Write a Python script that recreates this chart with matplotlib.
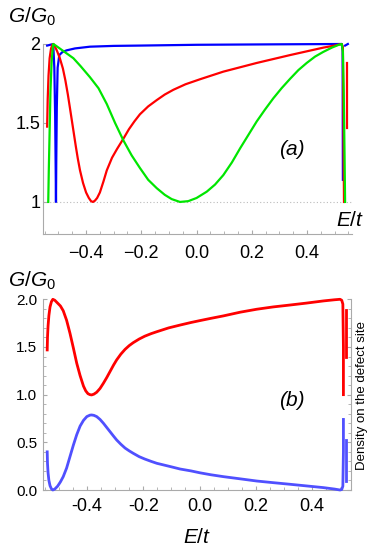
import matplotlib
matplotlib.use("Agg")
import matplotlib.pyplot as plt
from matplotlib.ticker import MultipleLocator

plt.rcParams['font.family'] = ['Liberation Sans', 'DejaVu Sans']
plt.rcParams['mathtext.fontset'] = 'custom'
plt.rcParams['mathtext.it'] = 'Liberation Sans:italic'
plt.rcParams['mathtext.rm'] = 'Liberation Sans'

# ---------------- Panel (a) data ----------------
a_red_x = [-0.541, -0.539, -0.536, -0.532, -0.527, -0.522, -0.518, -0.513, -0.505, -0.495,
           -0.484, -0.475, -0.466, -0.458, -0.451, -0.444, -0.437, -0.430, -0.422, -0.411,
           -0.400, -0.390, -0.382, -0.375, -0.368, -0.360, -0.350, -0.337, -0.325, -0.306,
           -0.288, -0.265, -0.245, -0.225, -0.205, -0.175, -0.144, -0.115, -0.084, -0.040,
           0.013, 0.097, 0.218, 0.339, 0.459, 0.500, 0.520, 0.526, 0.530, 0.534]
a_red_y = [1.477, 1.65, 1.80, 1.91, 1.97, 1.995, 2.00, 1.985, 1.955, 1.91,
           1.845, 1.77, 1.68, 1.59, 1.51, 1.43, 1.35, 1.275, 1.20, 1.12,
           1.06, 1.025, 1.005, 1.00, 1.008, 1.025, 1.06, 1.13, 1.20, 1.28,
           1.335, 1.40, 1.46, 1.51, 1.555, 1.605, 1.645, 1.68, 1.71, 1.745,
           1.777, 1.825, 1.88, 1.93, 1.977, 1.99, 1.998, 2.00, 1.98, 1.00]
a_red2_x = [0.544, 0.544]
a_red2_y = [1.88, 1.47]

a_green_x = [-0.537, -0.535, -0.532, -0.529, -0.525, -0.521, -0.519, -0.510, -0.490, -0.470,
             -0.446, -0.420, -0.386, -0.355, -0.325, -0.295, -0.265, -0.235, -0.205, -0.175,
             -0.144, -0.115, -0.090, -0.060, -0.030, 0.000, 0.037, 0.067, 0.097, 0.128,
             0.158, 0.188, 0.218, 0.248, 0.278, 0.308, 0.339, 0.369, 0.399, 0.429,
             0.459, 0.490, 0.515, 0.526, 0.530, 0.533, 0.536, 0.538]
a_green_y = [1.00, 1.20, 1.45, 1.70, 1.88, 1.97, 2.00, 1.99, 1.965, 1.94,
             1.91, 1.86, 1.79, 1.72, 1.62, 1.50, 1.39, 1.295, 1.215, 1.14,
             1.087, 1.045, 1.018, 1.00, 1.005, 1.025, 1.065, 1.11, 1.17, 1.25,
             1.34, 1.425, 1.51, 1.585, 1.656, 1.72, 1.78, 1.835, 1.88, 1.92,
             1.95, 1.977, 1.995, 2.00, 1.95, 1.70, 1.30, 1.00]

a_blue_x = [-0.541, -0.530, -0.519, -0.515, -0.512, -0.510, -0.509, -0.508, -0.506, -0.503,
            -0.497, -0.485, -0.470, -0.440, -0.386, -0.300, -0.205, 0.000, 0.300, 0.526,
            0.529, 0.530]
a_blue_y = [1.99, 1.995, 2.00, 1.85, 1.55, 1.20, 1.00, 1.25, 1.60, 1.85,
            1.93, 1.95, 1.96, 1.972, 1.983, 1.988, 1.99, 1.995, 1.998, 2.00,
            1.96, 1.14]
a_blue2_x = [0.538, 0.548]
a_blue2_y = [1.99, 2.00]

# ---------------- Panel (b) data ----------------
b_red_x = [-0.542, -0.541, -0.539, -0.536, -0.532, -0.527, -0.522, -0.515, -0.505, -0.495,
           -0.485, -0.473, -0.461, -0.449, -0.437, -0.425, -0.413, -0.405, -0.397, -0.390,
           -0.384, -0.376, -0.366, -0.354, -0.342, -0.330, -0.318, -0.306, -0.295, -0.280,
           -0.265, -0.250, -0.236, -0.215, -0.195, -0.172, -0.152, -0.110, -0.069, -0.030,
           0.002, 0.040, 0.085, 0.145, 0.204, 0.262, 0.322, 0.380, 0.441, 0.480,
           0.500, 0.506, 0.510, 0.512, 0.512]
b_red_y = [1.469, 1.60, 1.72, 1.83, 1.92, 1.975, 2.00, 1.99, 1.96, 1.93,
           1.88, 1.78, 1.644, 1.49, 1.33, 1.20, 1.09, 1.04, 1.01, 1.00,
           0.997, 1.005, 1.025, 1.065, 1.12, 1.18, 1.245, 1.31, 1.364, 1.425,
           1.475, 1.515, 1.545, 1.583, 1.613, 1.64, 1.66, 1.70, 1.73, 1.757,
           1.777, 1.80, 1.826, 1.865, 1.896, 1.92, 1.94, 1.96, 1.983, 1.995,
           2.00, 1.99, 1.95, 1.50, 1.00]
b_red2_x = [0.520, 0.520]
b_red2_y = [1.89, 1.40]

b_blue_x = [-0.542, -0.541, -0.539, -0.536, -0.532, -0.527, -0.522, -0.515, -0.505, -0.495,
            -0.485, -0.473, -0.461, -0.449, -0.437, -0.425, -0.413, -0.401, -0.390, -0.384,
            -0.376, -0.366, -0.354, -0.342, -0.330, -0.318, -0.306, -0.295, -0.280, -0.265,
            -0.250, -0.236, -0.215, -0.195, -0.172, -0.152, -0.110, -0.069, -0.030, 0.002,
            0.040, 0.085, 0.145, 0.204, 0.262, 0.322, 0.380, 0.441, 0.480, 0.500,
            0.506, 0.510, 0.512, 0.512]
b_blue_y = [0.40, 0.28, 0.18, 0.10, 0.045, 0.012, 0.00, 0.01, 0.04, 0.085,
            0.14, 0.23, 0.35, 0.47, 0.58, 0.67, 0.73, 0.77, 0.785, 0.787,
            0.783, 0.77, 0.74, 0.70, 0.655, 0.61, 0.565, 0.525, 0.48, 0.44,
            0.41, 0.385, 0.35, 0.325, 0.30, 0.28, 0.25, 0.22, 0.20, 0.18,
            0.16, 0.14, 0.117, 0.094, 0.077, 0.06, 0.043, 0.025, 0.01, 0.00,
            0.005, 0.04, 0.40, 0.74]
b_blue2_x = [0.520, 0.520]
b_blue2_y = [0.09, 0.52]

a_xticks = [-0.4, -0.2, 0.0, 0.2, 0.4]
a_xticklabels = ['\u22120.4', '\u22120.2', '0.0', '0.2', '0.4']
a_yticks = [1.0, 1.5, 2.0]
a_yticklabels = ['1', '1.5', '2']
b_xticks = [-0.4, -0.2, 0.0, 0.2, 0.4]
b_xticklabels = ['-0.4', '-0.2', '0.0', '0.2', '0.4']
b_yticks = [0.0, 0.5, 1.0, 1.5, 2.0]
b_yticklabels = ['0.0', '0.5', '1.0', '1.5', '2.0']

RED = '#ff0000'
GREEN = '#00e600'
BLUE = '#0000ff'
LBLUE = '#5050ff'
SPINE = '#aaaaaa'
LW = 1.6

fig = plt.figure(figsize=(3.82, 5.51), dpi=100)

# ---------------- Panel (a) ----------------
axa = fig.add_axes([43/382, 1-234/551, 309/382, 190/551])
axa.set_xlim(-0.556, 0.563)
axa.set_ylim(0.797, 2.0)
axa.axhline(1.0, color='#bbbbbb', lw=0.8, ls=(0, (1, 2)), zorder=1)
axa.plot(a_blue_x, a_blue_y, color=BLUE, lw=LW, clip_on=False, zorder=3)
axa.plot(a_blue2_x, a_blue2_y, color=BLUE, lw=LW, clip_on=False, zorder=3)
axa.plot(a_red_x, a_red_y, color=RED, lw=LW, clip_on=False, zorder=3)
axa.plot(a_red2_x, a_red2_y, color=RED, lw=LW, clip_on=False, zorder=3)
axa.plot(a_green_x, a_green_y, color=GREEN, lw=LW, clip_on=False, zorder=4)
for s in ['top', 'right']:
    axa.spines[s].set_visible(False)
for s in ['left', 'bottom']:
    axa.spines[s].set_color(SPINE)
    axa.spines[s].set_linewidth(0.8)
axa.set_xticks(a_xticks)
axa.set_xticklabels(a_xticklabels, fontsize=13)
axa.xaxis.set_minor_locator(MultipleLocator(0.05))
axa.set_yticks(a_yticks)
axa.set_yticklabels(a_yticklabels, fontsize=13)
axa.tick_params(axis='both', which='major', direction='in', length=3, color=SPINE)
axa.tick_params(axis='both', which='minor', direction='in', length=2, color=SPINE)
axa.tick_params(axis='x', pad=8)
axa.tick_params(axis='y', pad=2)
axa.text(-0.113, 1.11, r'$G/G_{\mathit{0}}$', transform=axa.transAxes, fontsize=15,
         ha='left', va='baseline')
axa.text(0.346, 1.33, '(a)', fontsize=15, style='italic', ha='center', va='center')
axa.text(0.555, 0.88, '$E/t$', fontsize=15, ha='center', va='center')

# ---------------- Panel (b) ----------------
axb = fig.add_axes([43/382, 1-490/551, 308/382, 190.7/551])
axb.set_xlim(-0.557, 0.539)
axb.set_ylim(0.0, 2.0)
axb.plot(b_red_x, b_red_y, color=RED, lw=2.0, clip_on=False, zorder=3)
axb.plot(b_red2_x, b_red2_y, color=RED, lw=2.0, clip_on=False, zorder=3)
axb.plot(b_blue_x, b_blue_y, color=LBLUE, lw=2.0, clip_on=False, zorder=3)
axb.plot(b_blue2_x, b_blue2_y, color=LBLUE, lw=2.0, clip_on=False, zorder=3)
axb.spines['top'].set_visible(False)
for s in ['left', 'bottom', 'right']:
    axb.spines[s].set_color(SPINE)
    axb.spines[s].set_linewidth(0.8)
axb.set_xticks(b_xticks)
axb.set_xticklabels(b_xticklabels, fontsize=13)
axb.xaxis.set_minor_locator(MultipleLocator(0.05))
axb.set_yticks(b_yticks)
axb.set_yticklabels(b_yticklabels, fontsize=11)
axb.yaxis.set_minor_locator(MultipleLocator(0.1))
axb.tick_params(axis='both', which='major', direction='in', length=3, color=SPINE, right=True)
axb.tick_params(axis='both', which='minor', direction='in', length=2, color=SPINE, right=True)
axb.tick_params(axis='x', pad=6)
axb.tick_params(axis='y', pad=4)
axb.text(-0.113, 1.064, r'$G/G_{\mathit{0}}$', transform=axb.transAxes, fontsize=15,
         ha='left', va='baseline')
axb.text(0.329, 0.934, '(b)', fontsize=15, style='italic', ha='center', va='center')
axb.set_xlabel('$E/t$', fontsize=15, labelpad=9)
fig.text(362/382, 1-395/551, 'Density on the defect site', rotation=90, fontsize=9.5,
         ha='center', va='center')

fig.savefig('out.png', dpi=100)
